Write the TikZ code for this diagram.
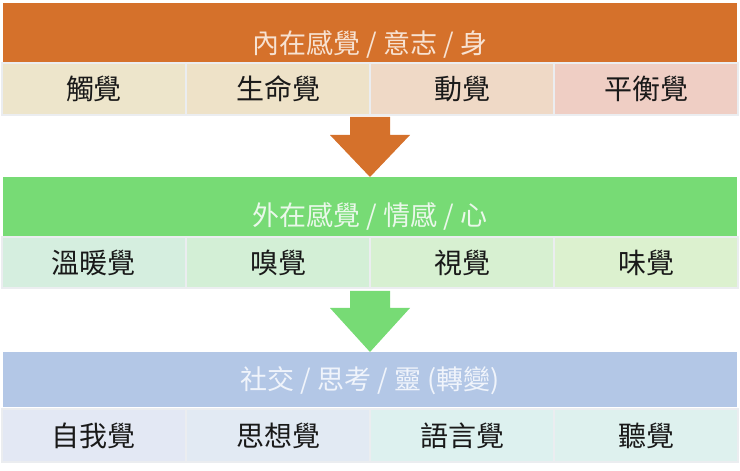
\documentclass[tikz,border=0pt]{standalone}
\usepackage{fontspec}
\setmainfont{Noto Sans CJK TC}
\usetikzlibrary{calc}
\definecolor{bodyHdr}{HTML}{D5712B}
\definecolor{bodyTxt}{HTML}{F7E2D2}
\definecolor{bodyA}{HTML}{EDE5CB}
\definecolor{bodyB}{HTML}{EEE2C8}
\definecolor{bodyC}{HTML}{EFD9C6}
\definecolor{bodyD}{HTML}{EFCEC4}
\definecolor{heartHdr}{HTML}{77DB75}
\definecolor{heartTxt}{HTML}{EAF8EA}
\definecolor{heartA}{HTML}{D5EEDF}
\definecolor{heartB}{HTML}{D3EFD6}
\definecolor{heartC}{HTML}{D7F0D1}
\definecolor{heartD}{HTML}{DCF1CF}
\definecolor{spiritHdr}{HTML}{B3C7E6}
\definecolor{spiritTxt}{HTML}{F0F4FB}
\definecolor{spiritA}{HTML}{E3E8F4}
\definecolor{spiritB}{HTML}{E2EAF3}
\definecolor{spiritC}{HTML}{DDF1EF}
\definecolor{spiritD}{HTML}{DEF1EE}
\definecolor{cellLine}{HTML}{EBEDF0}
\begin{document}
\begin{tikzpicture}[x=1pt,y=1pt,node distance=184pt,
    hdr/.style={minimum width=734pt,inner sep=0pt,outer sep=0pt,text depth=3pt,font=\fontsize{27}{27}\selectfont},
    cell/.style={draw=cellLine,line width=2pt,minimum width=184pt,inner sep=0pt,outer sep=0pt,text=black!90,font=\fontsize{28}{28}\selectfont}]
    \useasboundingbox (0,0) rectangle (740,471);
    % body
    \node[hdr,fill=bodyHdr,text=bodyTxt,minimum height=59pt,text height=45pt](body) at (370,438.5){內在感覺 / 意志 / 身};
    \node[cell,fill=bodyA,minimum height=52pt](touch) at (94,382){觸覺};
    \node[cell,fill=bodyB,minimum height=52pt](life)[right of=touch]{生命覺};
    \node[cell,fill=bodyC,minimum height=52pt](move)[right of=life]{動覺};
    \node[cell,fill=bodyD,minimum height=52pt](balance)[right of=move]{平衡覺};
    % heart
    \node[hdr,fill=heartHdr,text=heartTxt,minimum height=59pt,text height=42pt](heart) at (370,264.5){外在感覺 / 情感 / 心};
    \node[cell,fill=heartA,minimum height=51pt](warmth) at (94,208.5){溫暖覺};
    \node[cell,fill=heartB,minimum height=51pt](smell)[right of=warmth]{嗅覺};
    \node[cell,fill=heartC,minimum height=51pt](sight)[right of=smell]{視覺};
    \node[cell,fill=heartD,minimum height=51pt](taste)[right of=sight]{味覺};
    % spirit
    \node[hdr,fill=spiritHdr,text=spiritTxt,minimum height=55pt,text height=23pt](spirit) at (370,91.5){社交 / 思考 / 靈 (轉變)};
    \node[cell,fill=spiritA,minimum height=53pt](ego) at (94,35.5){自我覺};
    \node[cell,fill=spiritB,minimum height=53pt](thought)[right of=ego]{思想覺};
    \node[cell,fill=spiritC,minimum height=53pt](word)[right of=thought]{語言覺};
    \node[cell,fill=spiritD,minimum height=53pt](hearing)[right of=word]{聽覺};
    % arrows
    \fill[bodyHdr] ($(life.south east)+(-20,-2)$) -- ($(life.south east)+(20,-2)$)
        -- ($(heart.north)+(20,42)$) -- ($(heart.north)+(40,42)$) -- (heart.north)
        -- ($(heart.north)+(-40,42)$) -- ($(heart.north)+(-20,42)$) -- cycle;
    \fill[heartHdr] ($(smell.south east)+(-20,-3)$) -- ($(smell.south east)+(20,-3)$)
        -- ($(spirit.north)+(20,44)$) -- ($(spirit.north)+(40,44)$) -- (spirit.north)
        -- ($(spirit.north)+(-40,44)$) -- ($(spirit.north)+(-20,44)$) -- cycle;
\end{tikzpicture}
\end{document}
